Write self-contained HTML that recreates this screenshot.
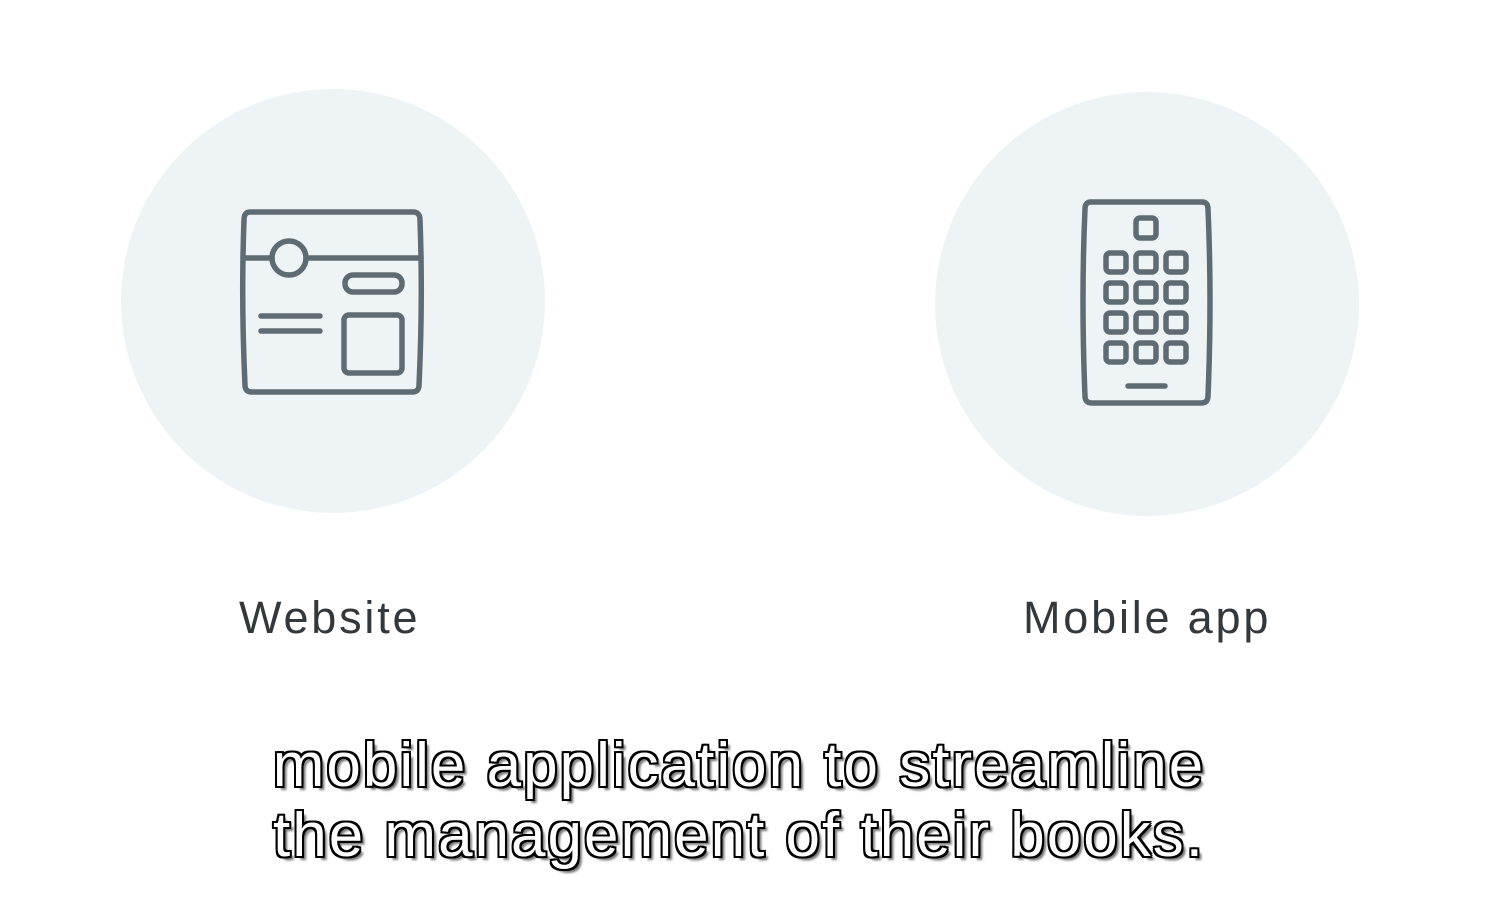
<!DOCTYPE html>
<html><head><style>
body{margin:0;width:1507px;height:905px;background:#fff;overflow:hidden;position:relative;font-family:"Liberation Sans",sans-serif}
.lbl{position:absolute;font-size:45px;color:#33383d;top:592px;letter-spacing:2.8px}
.sub{position:absolute;left:0;width:1478px;text-align:center;font-size:62px;letter-spacing:2px;color:#fff;line-height:70px;top:731px;
text-shadow:-2px -2px 0 #000,2px -2px 0 #000,-2px 2px 0 #000,2px 2px 0 #000,0 -2px 0 #000,0 2px 0 #000,-2px 0 0 #000,2px 0 0 #000,4px 4px 2px #777}
</style></head><body>
<svg width="1507" height="905" style="position:absolute;left:0;top:0">
<circle cx="333" cy="301" r="212" fill="#eef4f6"/>
<circle cx="1147" cy="304" r="212" fill="#eef4f6"/>
<g fill="none" stroke="#5f6b73" stroke-width="5.5" stroke-linecap="round" stroke-linejoin="round">
<path d="M250 212 H413 Q420 212 420 220 Q423 300 419 385 Q419 392 412 392 H252 Q245 392 245 385 Q241 300 244 220 Q244 212 250 212 Z"/>
<line x1="244" y1="258" x2="272" y2="258"/><line x1="306" y1="258" x2="421" y2="258"/>
<circle cx="289" cy="258" r="17"/>
<rect x="345" y="275" width="57" height="17" rx="8"/>
<line x1="261" y1="316" x2="320" y2="316"/><line x1="261" y1="331" x2="320" y2="331"/>
<rect x="344" y="315" width="58" height="58" rx="5"/>
<path d="M1091 202 H1202 Q1208 202 1208 209 Q1212 300 1208 396 Q1208 403 1201 403 H1092 Q1085 403 1085 396 Q1081 300 1085 209 Q1085 202 1091 202 Z"/>
<rect x="1136" y="218" width="20" height="20" rx="4"/>
<g>
<rect x="1106" y="253" width="20" height="19" rx="4"/><rect x="1136" y="253" width="20" height="19" rx="4"/><rect x="1166" y="253" width="20" height="19" rx="4"/>
<rect x="1106" y="283" width="20" height="19" rx="4"/><rect x="1136" y="283" width="20" height="19" rx="4"/><rect x="1166" y="283" width="20" height="19" rx="4"/>
<rect x="1106" y="313" width="20" height="19" rx="4"/><rect x="1136" y="313" width="20" height="19" rx="4"/><rect x="1166" y="313" width="20" height="19" rx="4"/>
<rect x="1106" y="343" width="20" height="19" rx="4"/><rect x="1136" y="343" width="20" height="19" rx="4"/><rect x="1166" y="343" width="20" height="19" rx="4"/>
</g>
<line x1="1128" y1="386" x2="1165" y2="386"/>
</g>
</svg>
<div class="lbl" style="left:239px">Website</div>
<div class="lbl" style="left:1023px">Mobile app</div>
<div class="sub">mobile application to streamline<br>the management of their books.</div>
</body></html>
